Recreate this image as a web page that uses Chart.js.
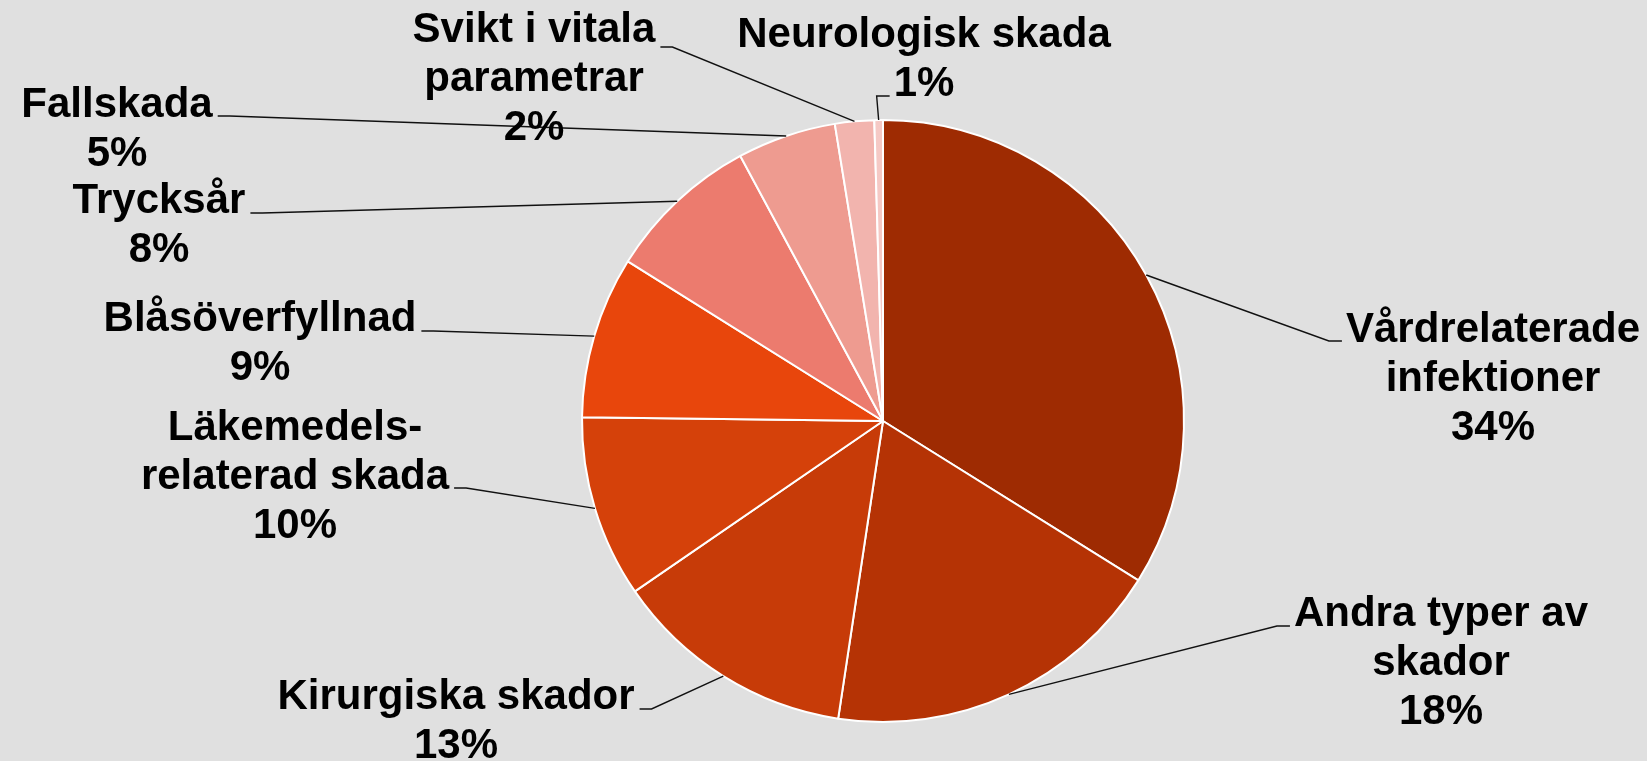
<!DOCTYPE html>
<html>
<head>
<meta charset="utf-8">
<script src="https://cdn.jsdelivr.net/npm/chart.js@4/dist/chart.umd.min.js"></script>
<style>
  html, body { margin: 0; padding: 0; background: #E0E0E0; }
  #wrap { width: 1647px; height: 761px; }
</style>
</head>
<body>
<div id="wrap"><canvas id="c" width="1647" height="761"></canvas></div>
<script>
// ---- data ----
const categories = [
  ['Vårdrelaterade', 'infektioner'],
  ['Andra typer av', 'skador'],
  ['Kirurgiska skador'],
  ['Läkemedels-', 'relaterad skada'],
  ['Blåsöverfyllnad'],
  ['Trycksår'],
  ['Fallskada'],
  ['Svikt i vitala', 'parametrar'],
  ['Neurologisk skada']
];
const values = [33.88, 18.50, 13.04, 9.78, 8.70, 8.24, 5.30, 2.10, 0.46];
const percentLabels = ['34%', '18%', '13%', '10%', '9%', '8%', '5%', '2%', '1%'];
const colors = ['#9E2B02', '#B53305', '#C73B08', '#D5410A', '#E8460C', '#EC7B6E', '#EE9B90', '#F2B4AE', '#F5C9C5'];

// ---- label layout (text block centre x, first baseline y, side the leader attaches to, line index, attach y) ----
const labelLayout = [
  { cx: 1493, y0: 342, side: 'left',  line: 0, ay: 341 },
  { cx: 1441, y0: 626, side: 'left',  line: 0, ay: 626 },
  { cx: 456,  y0: 709, side: 'right', line: 0, ay: 709 },
  { cx: 295,  y0: 440, side: 'right', line: 1, ay: 488 },
  { cx: 260,  y0: 331, side: 'right', line: 0, ay: 331 },
  { cx: 159,  y0: 213, side: 'right', line: 0, ay: 213 },
  { cx: 117,  y0: 117, side: 'right', line: 0, ay: 116 },
  { cx: 534,  y0: 42,  side: 'right', line: 0, ay: 47 },
  { cx: 924,  y0: 47,  side: 'left',  line: 1, ay: 96 }
];
const LINE_H = 49;
const FONT = 'bold 42px "Liberation Sans", Arial, sans-serif';

const leaderLabels = {
  id: 'leaderLabels',
  afterDatasetsDraw(chart) {
    const ctx = chart.ctx;
    const meta = chart.getDatasetMeta(0);
    ctx.save();
    ctx.font = FONT;
    meta.data.forEach((arc, i) => {
      const p = arc.getProps(['x', 'y', 'startAngle', 'endAngle', 'outerRadius'], true);
      const mid = (p.startAngle + p.endAngle) / 2;
      const sx = p.x + Math.cos(mid) * p.outerRadius;
      const sy = p.y + Math.sin(mid) * p.outerRadius;
      const L = labelLayout[i];
      const lines = categories[i].concat([percentLabels[i]]);
      const w = ctx.measureText(lines[L.line]).width;
      let ax, ex;
      if (L.side === 'left') { ax = L.cx - w / 2 - 4; ex = ax - 13; }
      else { ax = L.cx + w / 2 + 5; ex = ax + 12; }
      ctx.strokeStyle = '#111';
      ctx.lineWidth = 1.4;
      ctx.beginPath();
      ctx.moveTo(sx, sy);
      ctx.lineTo(ex, L.ay);
      ctx.lineTo(ax, L.ay);
      ctx.stroke();
      ctx.fillStyle = '#000';
      ctx.textAlign = 'center';
      ctx.textBaseline = 'alphabetic';
      lines.forEach((t, k) => ctx.fillText(t, L.cx, L.y0 + k * LINE_H));
    });
    ctx.restore();
  }
};

new Chart(document.getElementById('c'), {
  type: 'pie',
  data: {
    labels: categories.map(c => c.join(' ')),
    datasets: [{
      data: values,
      backgroundColor: colors,
      borderColor: '#FFFFFF',
      borderWidth: 2
    }]
  },
  options: {
    responsive: false,
    animation: false,
    radius: 301,
    layout: { padding: { left: 582, right: 463, top: 120, bottom: 39 } },
    plugins: { legend: { display: false }, tooltip: { enabled: false } }
  },
  plugins: [leaderLabels]
});
</script>
</body>
</html>
